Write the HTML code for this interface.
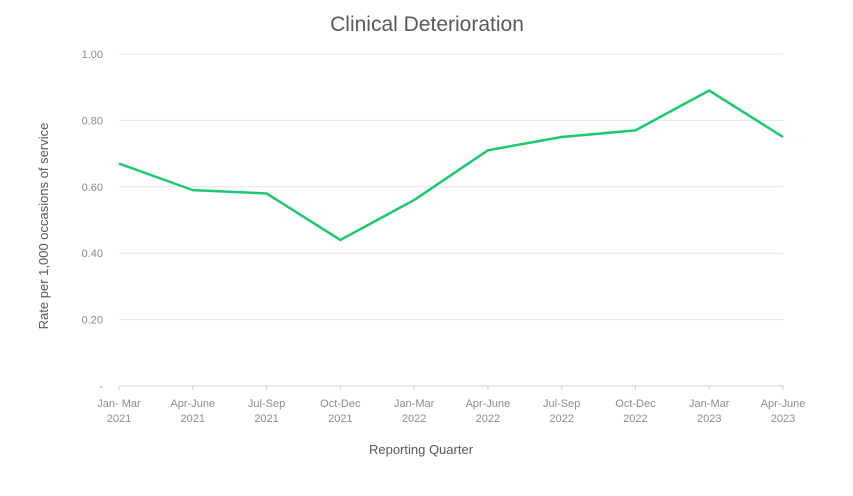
<!DOCTYPE html>
<html><head><meta charset="utf-8"><style>
body{margin:0;background:#fff;font-family:"Liberation Sans",sans-serif;}
svg text{font-family:"Liberation Sans",sans-serif;}
</style></head><body>
<svg id="chart" width="853" height="491" xmlns="http://www.w3.org/2000/svg">
<text x="427" y="31" text-anchor="middle" font-size="21" fill="#595959">Clinical Deterioration</text>
<text transform="translate(48,226) rotate(-90)" text-anchor="middle" font-size="13" fill="#595959">Rate per 1,000 occasions of service</text>
<text x="421" y="454" text-anchor="middle" font-size="13" fill="#595959">Reporting Quarter</text>
<g id="grid"></g><g id="xaxis"></g><g id="series"></g>
</svg>
<script>
const categories=[["Jan- Mar","2021"],["Apr-June","2021"],["Jul-Sep","2021"],["Oct-Dec","2021"],["Jan-Mar","2022"],["Apr-June","2022"],["Jul-Sep","2022"],["Oct-Dec","2022"],["Jan-Mar","2023"],["Apr-June","2023"]];
const values=[0.67,0.59,0.58,0.44,0.56,0.71,0.75,0.77,0.89,0.75];
const yTicks=[0,0.2,0.4,0.6,0.8,1.0];
const yTickLabels=["-","0.20","0.40","0.60","0.80","1.00"];
const NS="http://www.w3.org/2000/svg";
const x0=119,x1=783,yTop=54,yBot=386;
function xs(i){return x0+i*(x1-x0)/(categories.length-1);}
function ys(v){return yBot-(v/1.0)*(yBot-yTop);}
function mk(tag,at,parent){const e=document.createElementNS(NS,tag);for(const k in at)e.setAttribute(k,at[k]);parent.appendChild(e);return e;}
const grid=document.getElementById('grid'),xa=document.getElementById('xaxis'),se=document.getElementById('series');
yTicks.forEach((v,i)=>{
 if(v>0){const l=mk('line',{x1:x0,x2:x1,y1:ys(v),y2:ys(v),stroke:'#e3e3e3','stroke-width':1},grid);
 
 }
 const t=mk('text',{x:103,y:ys(v)+4,'text-anchor':'end','font-size':11,fill:'#8c8c8c'},grid);
 t.textContent=yTickLabels[i];
 
 
});
const base=mk('line',{x1:x0,x2:x1,y1:yBot,y2:yBot,stroke:'#d0d0d0','stroke-width':1},xa);


categories.forEach((c,i)=>{
 const tk=mk('line',{x1:xs(i),x2:xs(i),y1:yBot,y2:yBot+4,stroke:'#d0d0d0'},xa);
 
 
 const t=mk('text',{x:xs(i),y:407,'text-anchor':'middle','font-size':11,fill:'#8c8c8c'},xa);
 
 
 const a=mk('tspan',{x:xs(i),dy:0},t);a.textContent=c[0];
 const b=mk('tspan',{x:xs(i),dy:15},t);b.textContent=c[1];
});
const pts=values.map((v,i)=>xs(i)+','+ys(v)).join(' ');
const pl=mk('polyline',{points:pts,fill:'none',stroke:'#1ec86e','stroke-width':2.5,'stroke-linejoin':'round'},se);


</script>
</body></html>
